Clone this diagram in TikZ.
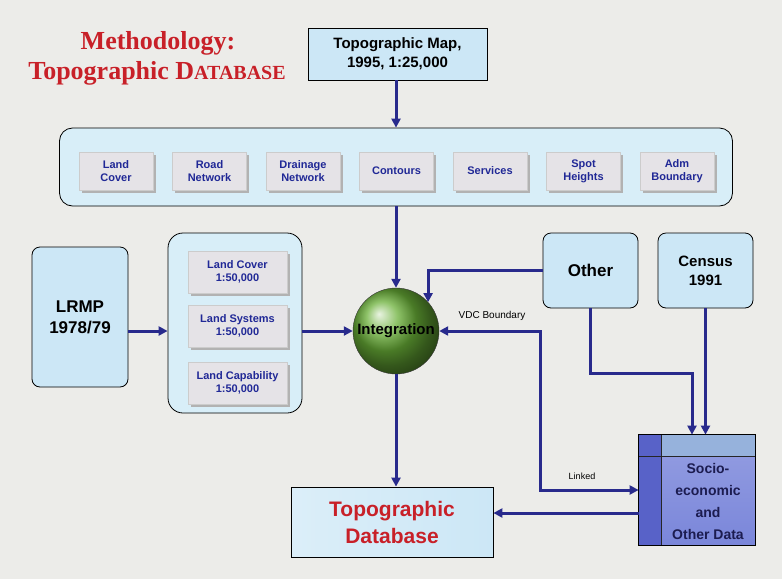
\documentclass[tikz,border=0pt]{standalone}
\usepackage{fontspec}
\setmainfont{Liberation Sans}
\newfontfamily\titlefont{Liberation Serif}
\usetikzlibrary{arrows.meta,shadows,positioning}

\definecolor{slidebg}{RGB}{236,236,233}
\definecolor{boxblue}{RGB}{204,231,246}
\definecolor{panelblue}{RGB}{216,238,248}
\definecolor{arrownavy}{RGB}{40,42,140}
\definecolor{titlered}{RGB}{200,32,40}
\definecolor{itemblue}{RGB}{32,40,150}
\definecolor{itemgray}{RGB}{229,227,231}
\definecolor{intgreen}{RGB}{105,175,55}
\definecolor{sociotop}{RGB}{150,178,220}
\definecolor{sociobody}{RGB}{122,134,218}
\definecolor{socioside}{RGB}{88,98,200}
\definecolor{sociotext}{RGB}{28,28,80}

\tikzset{
    srcbox/.style={draw=black, thick, fill=boxblue, rounded corners=8pt, align=center,
        font=\bfseries\fontsize{17}{21}\selectfont},
    panel/.style={draw=black, thick, fill=panelblue, rounded corners=13pt},
    layerbox/.style={fill=itemgray, draw=gray!40, text=itemblue, align=center,
        font=\bfseries\fontsize{11}{13}\selectfont,
        drop shadow={shadow xshift=2.5pt, shadow yshift=-2.5pt, fill=gray!60, opacity=1}},
    flow/.style={draw=arrownavy, line width=3pt, -{Triangle[length=9pt,width=9pt]}},
}

\begin{document}
\begin{tikzpicture}[x=1pt, y=-1pt]
    \fill[slidebg] (0,0) rectangle (782,579);
    \useasboundingbox (0,0) rectangle (782,579);

    % title
    \node[text=titlered, font=\titlefont\bfseries\fontsize{26}{28}\selectfont] (title1) at (158, 43) {Methodology:};
    \node[text=titlered, font=\titlefont\bfseries\fontsize{26}{28}\selectfont] (title2) at (157, 73)
        {Topographic D{\fontsize{20}{20}\selectfont ATABASE}};

    % sources
    \node[draw=black, thick, fill=boxblue, minimum width=179pt, minimum height=52pt, align=center,
        font=\bfseries\fontsize{15}{19}\selectfont] (topomap) at (397.5, 54) {Topographic Map,\\1995, 1:25,000};
    \node[panel, minimum width=673pt, minimum height=78pt] (layers) at (396, 167) {};
    \foreach \lbl [count=\i from 0] in {{Land\\Cover},{Road\\Network},{Drainage\\Network},{Contours},
        {Services},{Spot\\Heights},{Adm\\Boundary}}
        \node[layerbox, minimum width=74pt, minimum height=38pt] (layer\i) at (116+93.5*\i, 171) {\lbl};

    \node[srcbox, minimum width=96pt, minimum height=140pt] (lrmp) at (80, 317) {LRMP\\1978/79};
    \node[panel, rounded corners=15pt, minimum width=134pt, minimum height=180pt] (lrmpsets) at (235, 323) {};
    \node[layerbox, minimum width=99pt, minimum height=42pt] (landcover) at (237.5, 272) {Land Cover\\1:50,000};
    \node[layerbox, minimum width=99pt, minimum height=42pt] (landsystems) at (237.5, 326) {Land Systems\\1:50,000};
    \node[layerbox, minimum width=99pt, minimum height=42pt] (landcap) at (237.5, 383) {Land Capability\\1:50,000};

    \node[circle, draw=black!80, shading=ball, ball color=intgreen, minimum size=86pt, inner sep=0pt,
        font=\bfseries\fontsize{15}{15}\selectfont] (integ) at (396, 331) {Integration};

    \node[srcbox, minimum width=95pt, minimum height=75pt] (other) at (590.5, 270.5) {Other};
    \node[srcbox, minimum width=95pt, minimum height=75pt, font=\bfseries\fontsize{15}{19}\selectfont]
        (census) at (705.5, 270.5) {Census\\1991};

    % socio-economic data table
    \node[draw=black, thick, top color=sociobody!80, bottom color=sociobody, minimum width=116pt,
        minimum height=110pt] (socio) at (697, 490) {};
    \fill[socioside] ([xshift=0.6pt, yshift=-0.6pt]socio.north west) rectangle ([xshift=23pt, yshift=0.6pt]socio.south west);
    \fill[sociotop] ([xshift=23pt, yshift=-0.6pt]socio.north west) rectangle ([xshift=-0.6pt, yshift=-22pt]socio.north east);
    \draw[black!85] ([xshift=23pt]socio.north west) -- ([xshift=23pt]socio.south west);
    \draw[black!85] ([yshift=-22pt]socio.north west) -- ([yshift=-22pt]socio.north east);
    \draw[thick] (socio.north west) rectangle (socio.south east);
    \node[text=sociotext, align=center, font=\bfseries\fontsize{14}{22}\selectfont] (sociotxt) at (708, 501)
        {Socio-\\economic\\and\\Other Data};

    \node[draw=black, thick, left color=boxblue!70, right color=boxblue, minimum width=202pt, minimum height=70pt,
        align=center, text=titlered, font=\bfseries\fontsize{21}{27}\selectfont] (topodb) at (392, 522)
        {Topographic\\Database};

    % connectors
    \coordinate (vdcbend) at (540, 490);
    \coordinate (otherbend) at (692, 373);
    \coordinate (dblink) at (560, 513);
    \draw[flow] (topomap.south -| layers) -- (layers);
    \draw[flow] (layers) -- (integ);
    \draw[flow] (lrmp.east |- integ) -- (lrmpsets.west |- integ);
    \draw[flow] (lrmpsets.east |- integ) -- (integ);
    \draw[flow] (integ) -- (integ |- topodb.north);
    \draw[flow] (other.west) -| (integ.42);
    \draw[flow, {Triangle[length=9pt,width=9pt]}-{Triangle[length=9pt,width=9pt]}]
        (integ.east) -| (vdcbend) -- (vdcbend -| socio.west);
    \draw[flow] (other.south) |- (otherbend) -- (otherbend |- socio.north);
    \draw[flow] (census.south) -- (census.south |- socio.north);
    \draw[flow] (dblink -| socio.west) -- (dblink -| topodb.east);

    \node[font=\fontsize{10}{12}\selectfont] (vdclabel) at (492, 316) {VDC Boundary};
    \node[font=\fontsize{9}{11}\selectfont] (linkedlabel) at (582, 476) {Linked};
\end{tikzpicture}
\end{document}
